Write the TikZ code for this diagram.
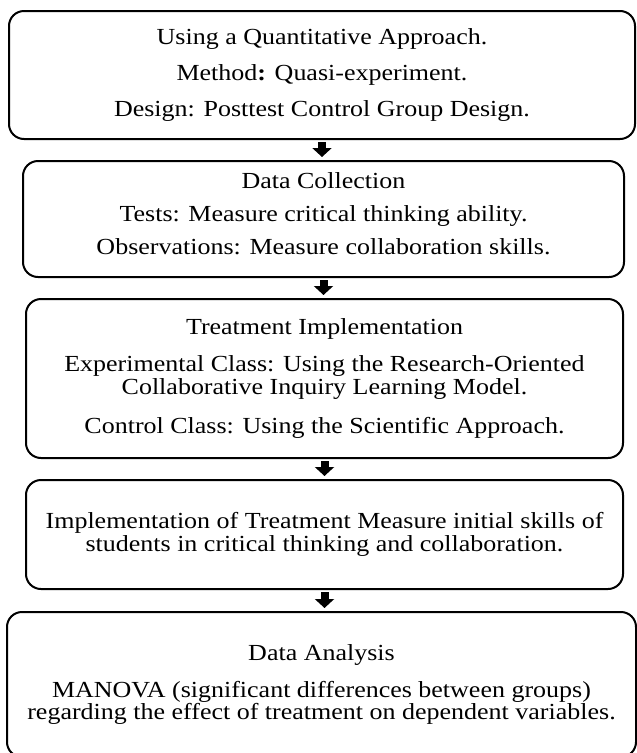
\documentclass[tikz,border=0pt]{standalone}
\usepackage{fontspec}
\setmainfont{Liberation Serif}[FakeStretch=1.13]
\usetikzlibrary{arrows.meta}

\tikzset{
  stagebox/.style={draw=black, line width=2pt, rounded corners=15pt,
    align=center, inner sep=0pt, font=\fontsize{23}{22.5}\selectfont},
  flowarrow/.style={draw=black, line width=8pt,
    -{Triangle[width=19pt,length=9pt]}, shorten <=2pt, shorten >=3pt}
}

\begin{document}
\begin{tikzpicture}[x=1pt, y=-1pt]
  \useasboundingbox (0,0) rectangle (637,753);

  % stages of the research procedure
  \node[stagebox, minimum width=626pt, minimum height=128pt] (b1) at (322,75)
    {Using a Quantitative Approach.\\[13.5pt]
     Method\textbf{:} Quasi-experiment.\\[13.5pt]
     Design: Posttest Control Group Design.};

  \node[stagebox, minimum width=601pt, minimum height=116pt,
        text depth=10pt] (b2) at (323.5,219)
    {Data Collection\\[10.5pt]
     Tests: Measure critical thinking ability.\\[10.5pt]
     Observations: Measure collaboration skills.};

  \node[stagebox, minimum width=597pt, minimum height=159pt] (b3) at (324.5,378.5)
    {Treatment Implementation\\[15pt]
     Experimental Class: Using the Research-Oriented\\
     Collaborative Inquiry Learning Model.\\[17pt]
     Control Class: Using the Scientific Approach.};

  \node[stagebox, minimum width=597pt, minimum height=109pt] (b4) at (324.5,534.5)
    {Implementation of Treatment Measure initial skills of\\
     students in critical thinking and collaboration.};

  \node[stagebox, minimum width=629pt, minimum height=145pt] (b5) at (321.5,684.5)
    {Data Analysis\\[14pt]
     MANOVA (significant differences between groups)\\
     regarding the effect of treatment on dependent variables.};

  % block arrows between stages
  \draw[flowarrow] (b1.south) -- (b1.south |- b2.north);
  \draw[flowarrow] (b2.south) -- (b2.south |- b3.north);
  \draw[flowarrow] (b3.south) -- (b3.south |- b4.north);
  \draw[flowarrow] (b4.south) -- (b4.south |- b5.north);
\end{tikzpicture}
\end{document}
